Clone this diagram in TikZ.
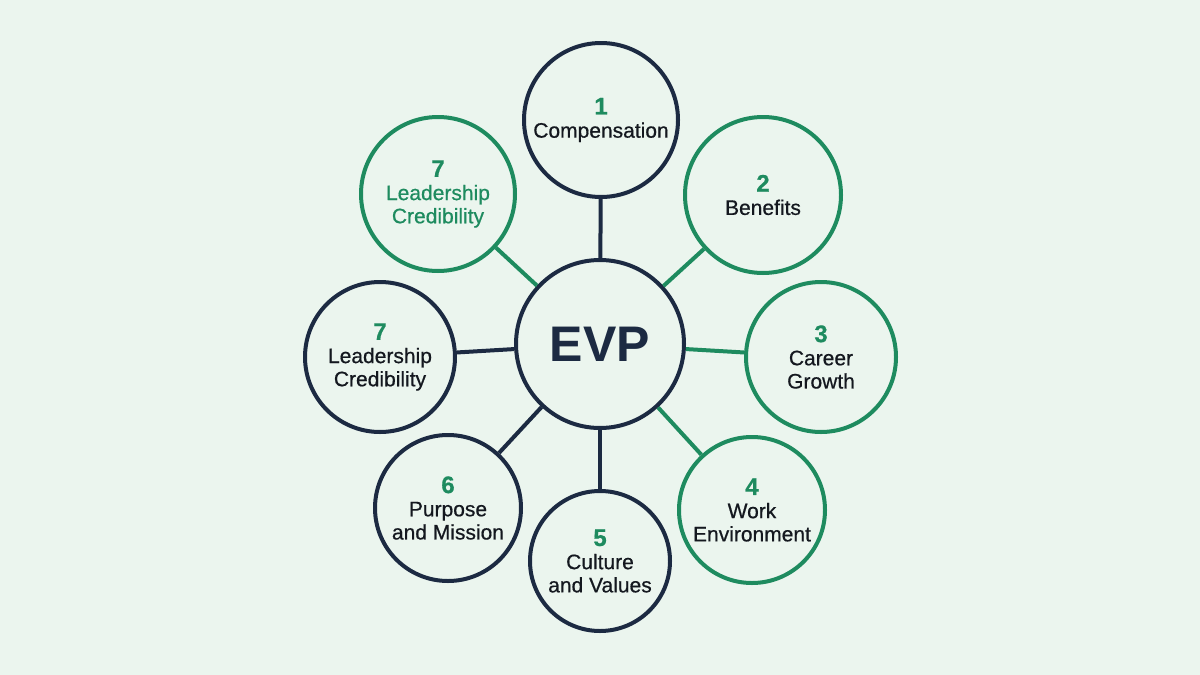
\documentclass[tikz,border=0pt]{standalone}
\usepackage{fontspec}
\setmainfont{Liberation Sans}
\newfontfamily\labelfont[FakeBold=0.6]{Liberation Sans}
\definecolor{evpnavy}{HTML}{1C2A42}
\definecolor{evpgreen}{HTML}{1E8B5F}
\definecolor{evpbg}{HTML}{EBF5EE}
\definecolor{evptext}{HTML}{14181F}
\newcommand{\itemnum}[1]{{\fontsize{12}{12}\selectfont\bfseries\color{evpgreen}#1}}

\begin{document}
\begin{tikzpicture}[x=0.5pt, y=-0.5pt, line width=2pt,
    pillar/.style={circle, draw=#1, inner sep=0pt, align=center, text=evptext,
        font=\labelfont\fontsize{10.5}{11.6}\selectfont},
    link/.style={draw=#1, line width=2pt}]
    % Background
    \fill[evpbg] (0,0) rectangle (1200,675);
    \useasboundingbox (0,0) rectangle (1200,675);

    % Hub
    \node[circle, draw=evpnavy, minimum size=84pt, inner sep=0pt, text=evpnavy,
        font=\fontsize{25}{25}\selectfont\bfseries] (evp) at (600,344) {EVP};

    % Pillars around the hub
    \node[pillar=evpnavy, minimum size=77pt] (comp) at (601,120) {\itemnum{1}\\Compensation};
    \node[pillar=evpgreen, minimum size=78pt] (bene) at (763,195) {\itemnum{2}\\Benefits};
    \node[pillar=evpgreen, minimum size=75pt] (career) at (821,357) {\itemnum{3}\\Career\\Growth};
    \node[pillar=evpgreen, minimum size=73pt] (work) at (752,510) {\itemnum{4}\\Work\\Environment};
    \node[pillar=evpnavy, minimum size=70pt] (culture) at (600,561) {\itemnum{5}\\Culture\\and Values};
    \node[pillar=evpnavy, minimum size=73pt] (purpose) at (448,508) {\itemnum{6}\\Purpose\\and Mission};
    \node[pillar=evpnavy, minimum size=75pt] (lead) at (380,357) {\itemnum{7}\\Leadership\\Credibility};
    \node[pillar=evpgreen, minimum size=77pt, text=evpgreen] (leadg) at (438,194) {\itemnum{7}\\Leadership\\Credibility};

    % Spokes
    \draw[link=evpnavy] (evp) -- (comp);
    \draw[link=evpgreen] (evp) -- (bene);
    \draw[link=evpgreen] (evp) -- (career);
    \draw[link=evpgreen] (evp) -- (work);
    \draw[link=evpnavy] (evp) -- (culture);
    \draw[link=evpnavy] (evp) -- (purpose);
    \draw[link=evpnavy] (evp) -- (lead);
    \draw[link=evpgreen] (evp) -- (leadg);
\end{tikzpicture}
\end{document}
